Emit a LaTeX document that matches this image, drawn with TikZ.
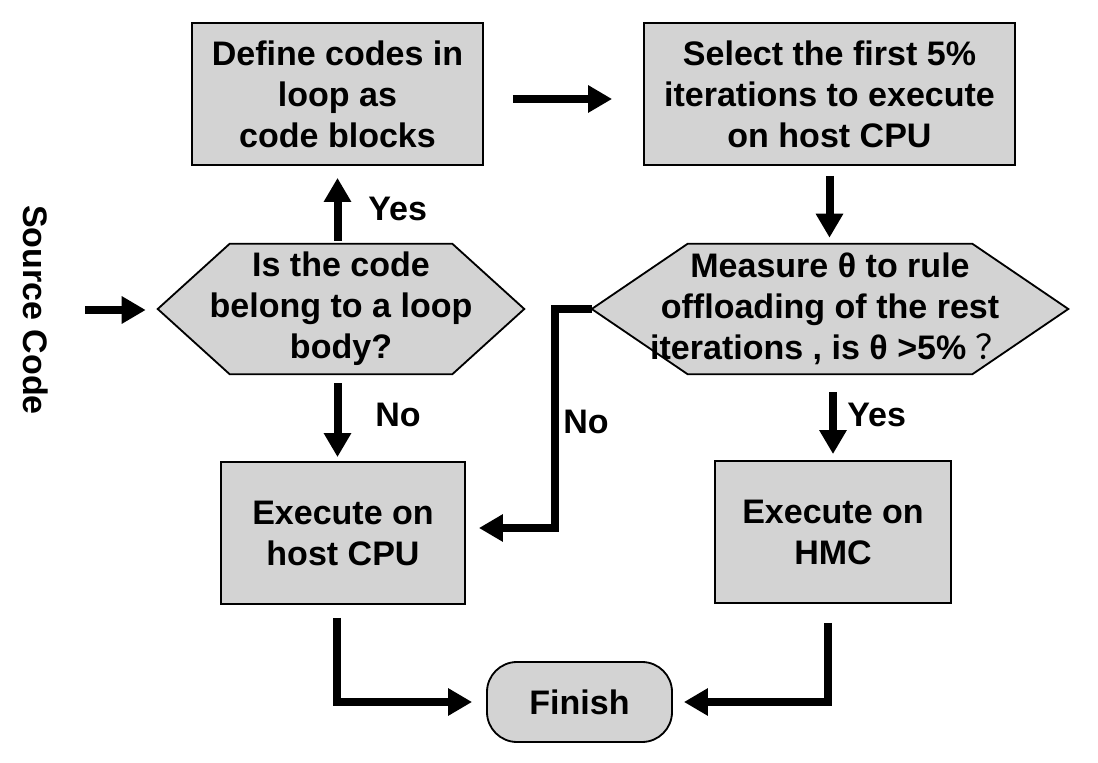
\documentclass[tikz,border=0pt]{standalone}
\usepackage{fontspec}
\setmainfont{Liberation Sans}
\newfontfamily\cjk{Noto Sans CJK SC}
\usetikzlibrary{arrows.meta,backgrounds}
\definecolor{boxgray}{RGB}{211,211,211}
\tikzset{
  txt/.style={font=\fontsize{24.2}{29.2}\selectfont\bfseries},
  box/.style={txt, draw, fill=boxgray, line width=1.3pt, align=center, inner sep=0pt, minimum height=3.55cm},
  hexnode/.style={txt, align=center, inner sep=0pt, minimum height=3.25cm},
  hexline/.style={draw, fill=boxgray, line width=1.3pt},
  flow/.style={line width=0.2cm, -{Triangle[length=0.6cm,width=0.65cm]}},
  lbl/.style={txt, anchor=west, inner sep=0pt}
}
\begin{document}
\begin{tikzpicture}
    \useasboundingbox (0,0) rectangle (27.45,19.05);
    \node[txt, rotate=-90] (src) at (0.9,11.3) {Source Code};
    \node[hexnode, minimum width=9.15cm] (q1) at (8.525,11.325) {Is the code\\belong to a loop\\body?};
    \node[box, minimum width=7.275cm] (b1) at (8.4375,16.7) {Define codes in\\loop as\\code blocks};
    \node[box, minimum width=9.275cm] (sel) at (20.7375,16.7) {Select the first 5\%\\iterations to execute\\on host CPU};
    \node[hexnode, minimum width=11.9cm] (q2) at (20.75,11.325) {Measure θ to rule\\offloading of the rest\\iterations , is θ >5\% {\cjk\mdseries ？}};
    \node[box, minimum width=6.1cm] (cpu) at (8.575,5.725) {Execute on\\host CPU};
    \node[box, minimum width=5.9cm] (hmc) at (20.825,5.75) {Execute on\\HMC};
    \node[box, minimum width=4.625cm, minimum height=2cm, rounded corners=0.75cm] (fin) at (14.4875,1.5) {Finish};
    % hexagons behind the questions
    \begin{scope}[on background layer]
        \draw[hexline] (q1.west) -- ([xshift=1.8cm]q1.north west) -- ([xshift=-1.8cm]q1.north east) -- (q1.east) -- ([xshift=-1.8cm]q1.south east) -- ([xshift=1.8cm]q1.south west) -- cycle;
        \draw[hexline] (q2.west) -- ([xshift=2.4cm]q2.north west) -- ([xshift=-2.4cm]q2.north east) -- (q2.east) -- ([xshift=-2.4cm]q2.south east) -- ([xshift=2.4cm]q2.south west) -- cycle;
    \end{scope}
    % arrows
    \draw[flow, shorten <=0.8cm, shorten >=0.3cm] (src) -- (src -| q1.west);
    \draw[flow, shorten <=0.075cm, shorten >=0.3cm] (b1.south |- q1.north) -- (b1.south);
    \draw[flow, shorten <=0.725cm, shorten >=0.775cm] ([yshift=-0.125cm]b1.east) -- ([yshift=-0.125cm]sel.west);
    \draw[flow, shorten <=0.25cm, shorten >=0.15cm] (sel.south) -- (sel.south |- q2.north);
    \draw[flow, shorten <=0.225cm, shorten >=0.1cm] (b1.south |- q1.south) -- (b1.south |- cpu.north);
    \draw[flow, shorten <=0.45cm, shorten >=0.15cm] (hmc.north |- q2.south) -- (hmc.north);
    \draw[flow, shorten >=0.325cm] (q2.west) -- ++(-0.925,0) |- ([yshift=0.125cm]cpu.east);
    \draw[flow, shorten <=0.325cm, shorten >=0.35cm] ([xshift=-0.15cm]cpu.south) |- (fin.west);
    \draw[flow, shorten <=0.475cm, shorten >=0.275cm] ([xshift=-0.125cm]hmc.south) |- (fin.east);
    % labels
    \node[lbl] (y1) at (9.2,13.825) {Yes};
    \node[lbl] (n1) at (9.375,8.675) {No};
    \node[lbl] (y2) at (21.175,8.675) {Yes};
    \node[lbl] (n2) at (14.075,8.5) {No};
\end{tikzpicture}
\end{document}
